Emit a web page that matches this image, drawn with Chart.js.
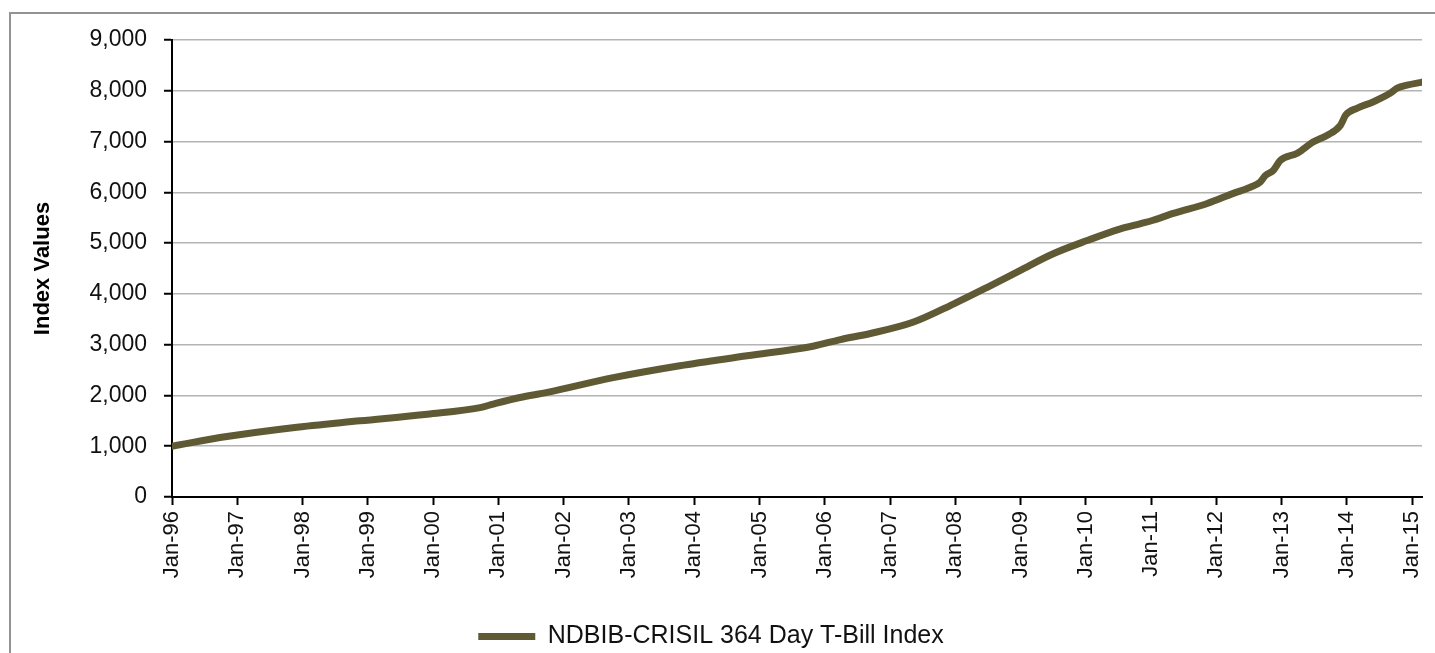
<!DOCTYPE html>
<html>
<head>
<meta charset="utf-8">
<script src="https://cdn.jsdelivr.net/npm/chart.js@4/dist/chart.umd.min.js"></script>
<style>
  html,body{margin:0;padding:0;background:#fff;overflow:hidden;width:1435px;height:653px}
  #frame{position:absolute;left:9px;top:12px;width:1500px;height:700px;border:2px solid #939393;box-sizing:border-box}
  #wrap{position:absolute;left:0;top:0;width:1435px;height:653px}
</style>
</head>
<body>
<div id="frame"></div>
<div id="wrap"><canvas id="chart"></canvas></div>
<script>
// decimal year of each reading
const years = [1996.00, 1996.84, 1997.85, 1998.88, 1999.91, 2000.72, 2000.92, 2001.33, 2001.75, 2002.76,
  2003.78, 2004.81, 2005.82, 2006.24, 2006.70, 2007.35, 2007.97, 2008.49, 2008.99, 2009.50,
  2010.02, 2010.53, 2010.83, 2011.03, 2011.34, 2011.86, 2012.26, 2012.52, 2012.67, 2012.75,
  2012.87, 2012.98, 2013.24, 2013.48, 2013.70, 2013.90, 2013.98, 2014.16, 2014.40, 2014.66,
  2014.77, 2014.92, 2015.15];
const indexValues = [1000, 1190, 1365, 1500, 1630, 1760, 1830, 1960, 2060, 2350,
  2585, 2780, 2970, 3100, 3220, 3440, 3800, 4130, 4460, 4790,
  5050, 5280, 5380, 5450, 5585, 5780, 5980, 6100, 6200, 6330,
  6430, 6630, 6770, 6990, 7125, 7320, 7520, 7660, 7780, 7950,
  8050, 8110, 8170];
const tickYears = [1996,1997,1998,1999,2000,2001,2002,2003,2004,2005,2006,2007,2008,2009,2010,2011,2012,2013,2014,2015];
const seriesName = 'NDBIB-CRISIL 364 Day T-Bill Index';

const font = 'Liberation Sans, Arial, sans-serif';
const lineColor = '#5f5a34';

new Chart(document.getElementById('chart'), {
  type: 'line',
  data: {
    datasets: [{
      label: seriesName,
      data: years.map((x, i) => ({x, y: indexValues[i]})),
      borderColor: lineColor,
      backgroundColor: lineColor,
      borderWidth: 7,
      pointRadius: 0,
      cubicInterpolationMode: 'monotone',
      borderCapStyle: 'round',
      borderJoinStyle: 'round'
    }]
  },
  options: {
    responsive: true,
    maintainAspectRatio: false,
    animation: false,
    layout: {padding: {top: 40, right: 13, left: 0, bottom: -6}},
    plugins: {
      tooltip: {enabled: false},
      legend: {
        position: 'bottom',
        labels: {
          usePointStyle: true,
          pointStyle: 'line',
          pointStyleWidth: 57,
          boxHeight: 25,
          color: '#111',
          font: {family: font, size: 25},
          padding: 0
        }
      }
    },
    scales: {
      x: {
        type: 'linear',
        min: 1996,
        max: 2015.15,
        afterBuildTicks: s => { s.ticks = tickYears.map(v => ({value: v})); },
        afterFit: s => { s.height = 127; s.paddingLeft = 0; s.paddingRight = 0; },
        ticks: {
          autoSkip: false,
          maxRotation: 90,
          minRotation: 90,
          padding: 6,
          color: '#111',
          font: {family: font, size: 22},
          callback: v => 'Jan-' + String(v).slice(2)
        },
        grid: {drawOnChartArea: false, tickLength: 8, tickColor: '#000', tickWidth: 2},
        border: {color: '#000', width: 2}
      },
      y: {
        min: 0,
        max: 9000,
        afterFit: s => { s.width = 172; },
        ticks: {
          stepSize: 1000,
          padding: 17,
          color: '#111',
          font: {family: font, size: 23},
          callback: v => v.toLocaleString('en-US')
        },
        grid: {color: '#b4b4b4', lineWidth: 1.5, tickLength: 8, tickColor: '#000', tickWidth: 2},
        border: {color: '#000', width: 2},
        title: {
          display: true,
          text: 'Index Values',
          color: '#000',
          font: {family: font, size: 22, weight: 'bold'},
          padding: {top: 30, bottom: 0}
        }
      }
    }
  }
});
</script>
</body>
</html>
